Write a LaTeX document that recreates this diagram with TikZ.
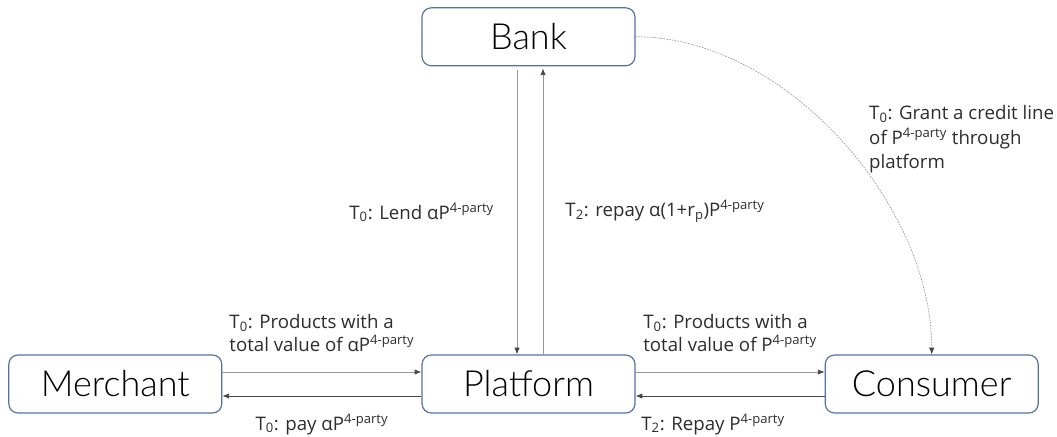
\documentclass[tikz,border=0pt]{standalone}
\usepackage{fontspec}
\setmainfont{Open Sans}
\IfFontExistsTF{Lato Light}{\newfontfamily\boxfont{Lato Light}}{\newfontfamily\boxfont{Carlito}}
\usetikzlibrary{arrows.meta,positioning}
\definecolor{box_blue}{RGB}{84,114,168}
\definecolor{line_gray}{RGB}{150,150,150}
\definecolor{line_dark}{RGB}{70,70,70}
\definecolor{text_dark}{RGB}{45,45,45}
\tikzset{
party_box/.style={rectangle, rounded corners=7pt, draw=box_blue, line width=0.9pt, fill=white, minimum width=159.75pt, minimum height=43.5pt, inner sep=0pt, font=\boxfont\fontsize{27}{30}\selectfont},
flow_label/.style={text=text_dark, align=left, inner sep=2pt, font=\fontsize{14}{17}\selectfont},
grant_label/.style={flow_label, font=\fontsize{14}{18.5}\selectfont},
flow_arrow/.style={-{Latex[length=5pt,width=4pt,color=line_dark]}, line width=0.6pt, draw=line_gray},
pay_arrow/.style={flow_arrow, draw=line_dark},
credit_arrow/.style={-{Latex[length=5pt,width=4pt,color=line_dark]}, line width=0.5pt, draw=line_gray, dash pattern=on 1.2pt off 0.9pt}
}

\begin{document}
\begin{tikzpicture}[x=0.75pt, y=-0.75pt]
    \useasboundingbox (0,0) rectangle (1057,436);
    \node[party_box] (platform) at (528.5,384) {Platform};
    \node[party_box] (merchant) [left=149.25pt of platform] {Merchant};
    \node[party_box] (consumer) [right=141.75pt of platform] {Consumer};
    \node[party_box] (bank) [above=216pt of platform] {Bank};
    % bank <-> platform
    \draw[flow_arrow] ([xshift=-8.6pt,yshift=-3pt]bank.south) -- ([xshift=-8.6pt]platform.north)
        node[flow_label, midway, left=15pt] {T\textsubscript{0}: Lend αP\textsuperscript{4-party}};
    \draw[flow_arrow] ([xshift=10.9pt]platform.north) -- ([xshift=10.9pt,yshift=-1.5pt]bank.south)
        node[flow_label, midway, right=14.5pt] {T\textsubscript{2}: repay α(1+r\textsubscript{p})P\textsuperscript{4-party}};
    % merchant <-> platform
    \draw[flow_arrow] ([yshift=9pt]merchant.east) -- ([yshift=9pt]platform.west)
        node[flow_label, midway, above=13pt] {T\textsubscript{0}: Products with a\\total value of αP\textsuperscript{4-party}};
    \draw[pay_arrow] ([yshift=-9pt]platform.west) -- ([yshift=-9pt]merchant.east)
        node[flow_label, midway, below=11pt] {T\textsubscript{0}: pay αP\textsuperscript{4-party}};
    % platform <-> consumer
    \draw[flow_arrow] ([yshift=9pt]platform.east) -- ([yshift=9pt]consumer.west)
        node[flow_label, midway, above=13pt] {T\textsubscript{0}: Products with a\\total value of P\textsuperscript{4-party}};
    \draw[pay_arrow] ([yshift=-9pt]consumer.west) -- ([yshift=-9pt]platform.east)
        node[flow_label, pos=0.59, below=11pt] {T\textsubscript{2}: Repay P\textsuperscript{4-party}};
    % bank -> consumer credit line
    \draw[credit_arrow] (bank.east) .. controls +(150,0) and +(0,-150) .. (consumer.north)
        node[grant_label, pos=0.5, right=19.75pt] {T\textsubscript{0}: Grant a credit line\\of P\textsuperscript{4-party} through\\platform};
\end{tikzpicture}
\end{document}
